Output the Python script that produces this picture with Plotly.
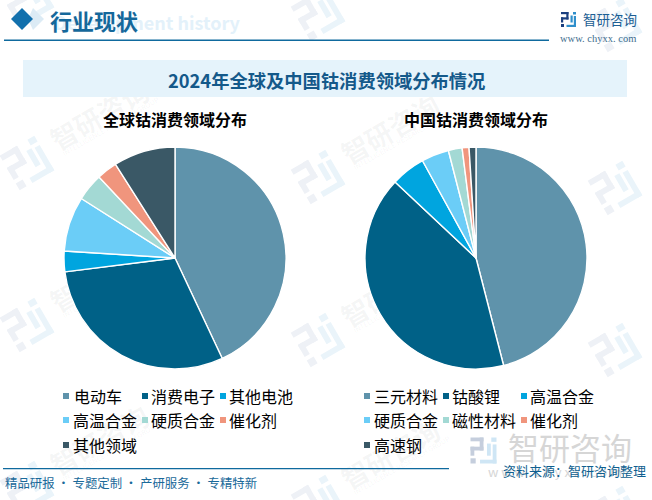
import math
import plotly.graph_objects as go

W, H = 652, 500
global_names = ["电动车", "消费电子", "其他电池", "高温合金", "硬质合金", "催化剂", "其他领域"]
global_values = [43, 30, 3, 8, 4, 3, 9]
china_names = ["三元材料", "钴酸锂", "高温合金", "硬质合金", "磁性材料", "催化剂", "高速钢"]
china_values = [46, 41, 5, 4, 2, 1, 1]
colors = ["#5F93AB", "#006187", "#00A5DF", "#6BCDF7", "#A3D9D4", "#F0957D", "#3A5866"]

CJK = "Noto Sans CJK SC"
BLUE = "#15689B"

def px(x): return x / W
def py(y): return 1 - y / H

fig = go.Figure()
for names, vals, x0, x1 in [(global_names, global_values, 64, 286), (china_names, china_values, 365, 587)]:
    fig.add_trace(go.Pie(labels=names, values=vals, sort=False, direction="clockwise", rotation=0,
                         marker=dict(colors=colors, line=dict(color="white", width=1.4)),
                         textinfo="none", hoverinfo="label+percent", showlegend=False,
                         domain=dict(x=[px(x0), px(x1)], y=[py(369), py(147)])))

shapes, ann = [], []

def rect(x0, y0, x1, y1, color, layer="below"):
    shapes.append(dict(type="rect", xref="paper", yref="paper", x0=px(x0), x1=px(x1), y0=py(y0), y1=py(y1),
                       fillcolor=color, line_width=0, layer=layer))

def poly(pts, color, layer="below"):
    d = "M" + " L".join(f"{px(a):.5f},{py(b):.5f}" for a, b in pts) + " Z"
    shapes.append(dict(type="path", xref="paper", yref="paper", path=d, fillcolor=color, line_width=0, layer=layer))

def text(x, y, s, size, color="#000", anchor="left", bold=False, family=CJK):
    ann.append(dict(xref="paper", yref="paper", x=px(x), y=py(y), text=f"<b>{s}</b>" if bold else s, showarrow=False,
                    xanchor=anchor, yanchor="middle", font=dict(family=family, size=size, color=color),
                    borderpad=0, borderwidth=0))

def under_text(x, y, s, size, color, angle=0, bold=False, family=CJK):
    d = 20
    shapes.append(dict(type="rect", xref="paper", yref="paper", x0=px(x - d), x1=px(x + d), y0=py(y + d), y1=py(y - d),
                       line_width=0, fillcolor="rgba(0,0,0,0)", layer="below",
                       label=dict(text=f"<b>{s}</b>" if bold else s, textangle=angle, textposition="middle center",
                                  padding=0, font=dict(family=family, size=size, color=color))))

# brand mark in a 15x15 local box: (x0, y0, x1, y1, part)
LOGO = [
    (0, 0, 7.5, 2.2, 0), (5.3, 0, 7.5, 7.5, 0), (0, 5.3, 7.5, 7.5, 0), (0, 5.3, 2.2, 10.5, 0), (0, 12, 3, 15, 0),
    (12, 0, 15, 2.5, 1), (9.5, 3.5, 11.7, 10.5, 1), (12.8, 4, 15, 15, 1), (5.5, 12.8, 15, 15, 1),
]

def logo(cx, cy, s, c1, c2, angle=0):
    u = s / 15
    a = math.radians(angle)
    ca, sa = math.cos(a), math.sin(a)
    for x0, y0, x1, y1, part in LOGO:
        pts = []
        for lx, ly in [(x0, y0), (x1, y0), (x1, y1), (x0, y1)]:
            dx, dy = (lx - 7.5) * u, (ly - 7.5) * u
            pts.append((cx + dx * ca - dy * sa, cy + dx * sa + dy * ca))
        poly(pts, c2 if part else c1)

# watermark tiles
WM = "rgba(110,115,125,0.065)"
for lx, ly, with_text in [(27, 0, False), (318, 14, False), (615, 25, False),
                          (27, 163, True), (318, 177, True), (615, 188, False),
                          (27, 325, True), (318, 340, True), (615, 350, False),
                          (27, 488, True), (318, 502, True), (615, 513, False)]:
    logo(lx, ly, 40, "#EEF1F6", "#EAF4FA", angle=-30)
    if with_text:
        under_text(lx + 74, ly - 45, "智研咨询", 27, WM, angle=-30, bold=True)
        under_text(lx + 84, ly - 36, "INTELLIGENCE RESEARCH GROUP", 7, WM, angle=-30)

# header
under_text(147, 25, "Development history", 18, "#E3F1FA", bold=True)
poly([(33, 8), (44, 19), (33, 30), (28, 19)], "#DCEBF5")
poly([(22, 8), (33, 19), (22, 30), (11, 19)], "#1270AD", layer="above")
text(50, 20, "行业现状", 22, BLUE, bold=True)
rect(4, 39.5, 549, 41, "#0F6A9E")
logo(568.5, 19.5, 15, "#1B3F7F", "#2F8FCB")
text(583, 19, "智研咨询", 13.5, "#1C5E93")
text(598, 38.5, "www. chyxx. com", 10.5, "#3E6E8E", anchor="center", family="Liberation Serif")

# banner
rect(23, 60, 627, 97, "#E5F3FB")
text(326.5, 80, "2024年全球及中国钴消费领域分布情况", 18.3, "#14598A", anchor="center", bold=True)
text(175, 119, "全球钴消费领域分布", 16, "#000", anchor="center", bold=True)
text(476, 119, "中国钴消费领域分布", 16, "#000", anchor="center", bold=True)

# legends
left_grid = [(63, 74), (142, 151), (220, 229), (63, 73), (142, 151), (220, 229), (63, 73)]
right_grid = [(364, 374), (443, 452), (521, 530), (364, 374), (443, 452), (521, 530), (364, 374)]
rows = [396, 396, 396, 420, 420, 420, 445]
for names, grid in [(global_names, left_grid), (china_names, right_grid)]:
    for n, c, (sx, tx), ry in zip(names, colors, grid, rows):
        rect(sx, ry - 3, sx + 6, ry + 3, c)
        text(tx, ry, n, 16, "#000")

# footer
rect(3, 468, 449, 469.3, "#0F6A9E")
text(5, 483, "精品研报 · 专题定制 · 产研服务 · 专精特新", 12.4, "#1A6A9A")
logo(483.5, 450.5, 26, "#C5CEDD", "#CFE6F5")
under_text(570, 451, "智研咨询", 31, "#D6D6D6")
under_text(555, 473, "w w w . c h y x x . c o m", 13, "#D6D6D6")
text(503, 470, "资料来源：智研咨询整理", 13, "#0F5F8F")

fig.update_layout(width=W, height=H, margin=dict(l=0, r=0, t=0, b=0), paper_bgcolor="white", plot_bgcolor="white",
                  shapes=shapes, annotations=ann)
fig.write_html("out.html", config=dict(displayModeBar=False),
               post_script="document.body.style.margin='0';document.body.style.overflow='hidden';")
